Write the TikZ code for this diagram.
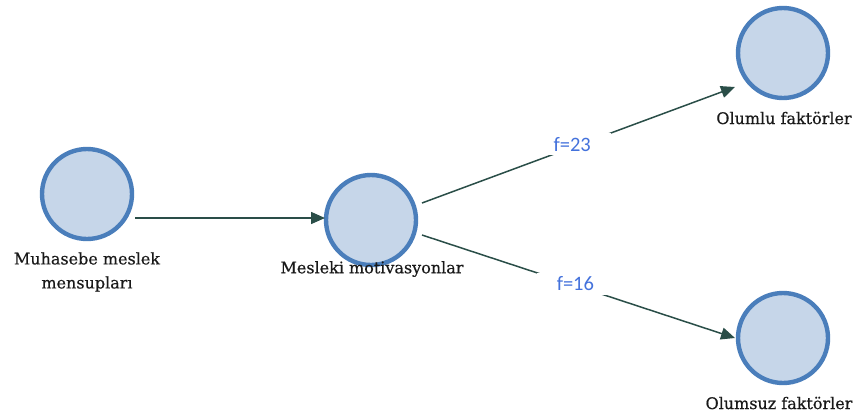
\documentclass[tikz,border=0pt]{standalone}
\usepackage{fontspec}
\setmainfont{DejaVu Serif}
\newfontfamily\txtfont[FakeBold=0.5]{DejaVu Serif}
\newfontfamily\labfont{Carlito}
\usetikzlibrary{arrows.meta,calc}
\definecolor{circfill}{RGB}{198,214,233}
\definecolor{circdraw}{RGB}{74,126,187}
\definecolor{conncol}{RGB}{42,78,72}
\definecolor{labcol}{RGB}{68,114,220}
\definecolor{txtcol}{RGB}{25,25,25}
\tikzset{
  circnode/.style={circle,draw=circdraw,fill=circfill,line width=4.4pt,minimum size=90pt,inner sep=0pt},
  txt/.style={font=\txtfont\fontsize{16}{24}\selectfont,text=txtcol,align=center,inner sep=0pt},
  conn/.style={draw=conncol,line width=1.5pt,-{Triangle[length=14pt,width=12pt]}},
  lab/.style={font=\labfont\fontsize{20.5}{22}\selectfont,text=labcol,fill=white,inner xsep=20pt,inner ysep=4pt}
}
\begin{document}
\begin{tikzpicture}[x=1pt,y=-1pt]
\useasboundingbox (0,0) rectangle (859,413);
\node[circnode] (c1) at (87,194) {};
\node[circnode] (c2) at (371,220) {};
\node[circnode] (c3) at (783,53) {};
\node[circnode] (c4) at (783,338) {};
\node[txt] (t1) at (87,272) {Muhasebe meslek\\mensupları};
\node[txt] (t2) at (372,269) {Mesleki motivasyonlar};
\node[txt] (t3) at (784,118) {Olumlu faktörler};
\node[txt] (t4) at (779,403) {Olumsuz faktörler};
\draw[conn] ($(c1)+(48,24)$) -- ($(c2)+(-46,-2)$);
\draw[conn] ($(c2)+(51,-17)$) -- node[lab,pos=0.48,yshift=3pt] (l1) {f=23} ($(c3)+(-48,34)$);
\draw[conn] ($(c2)+(51,15)$) -- node[lab,pos=0.49,yshift=1.5pt] (l2) {f=16} ($(c4)+(-48,0)$);
\end{tikzpicture}
\end{document}
